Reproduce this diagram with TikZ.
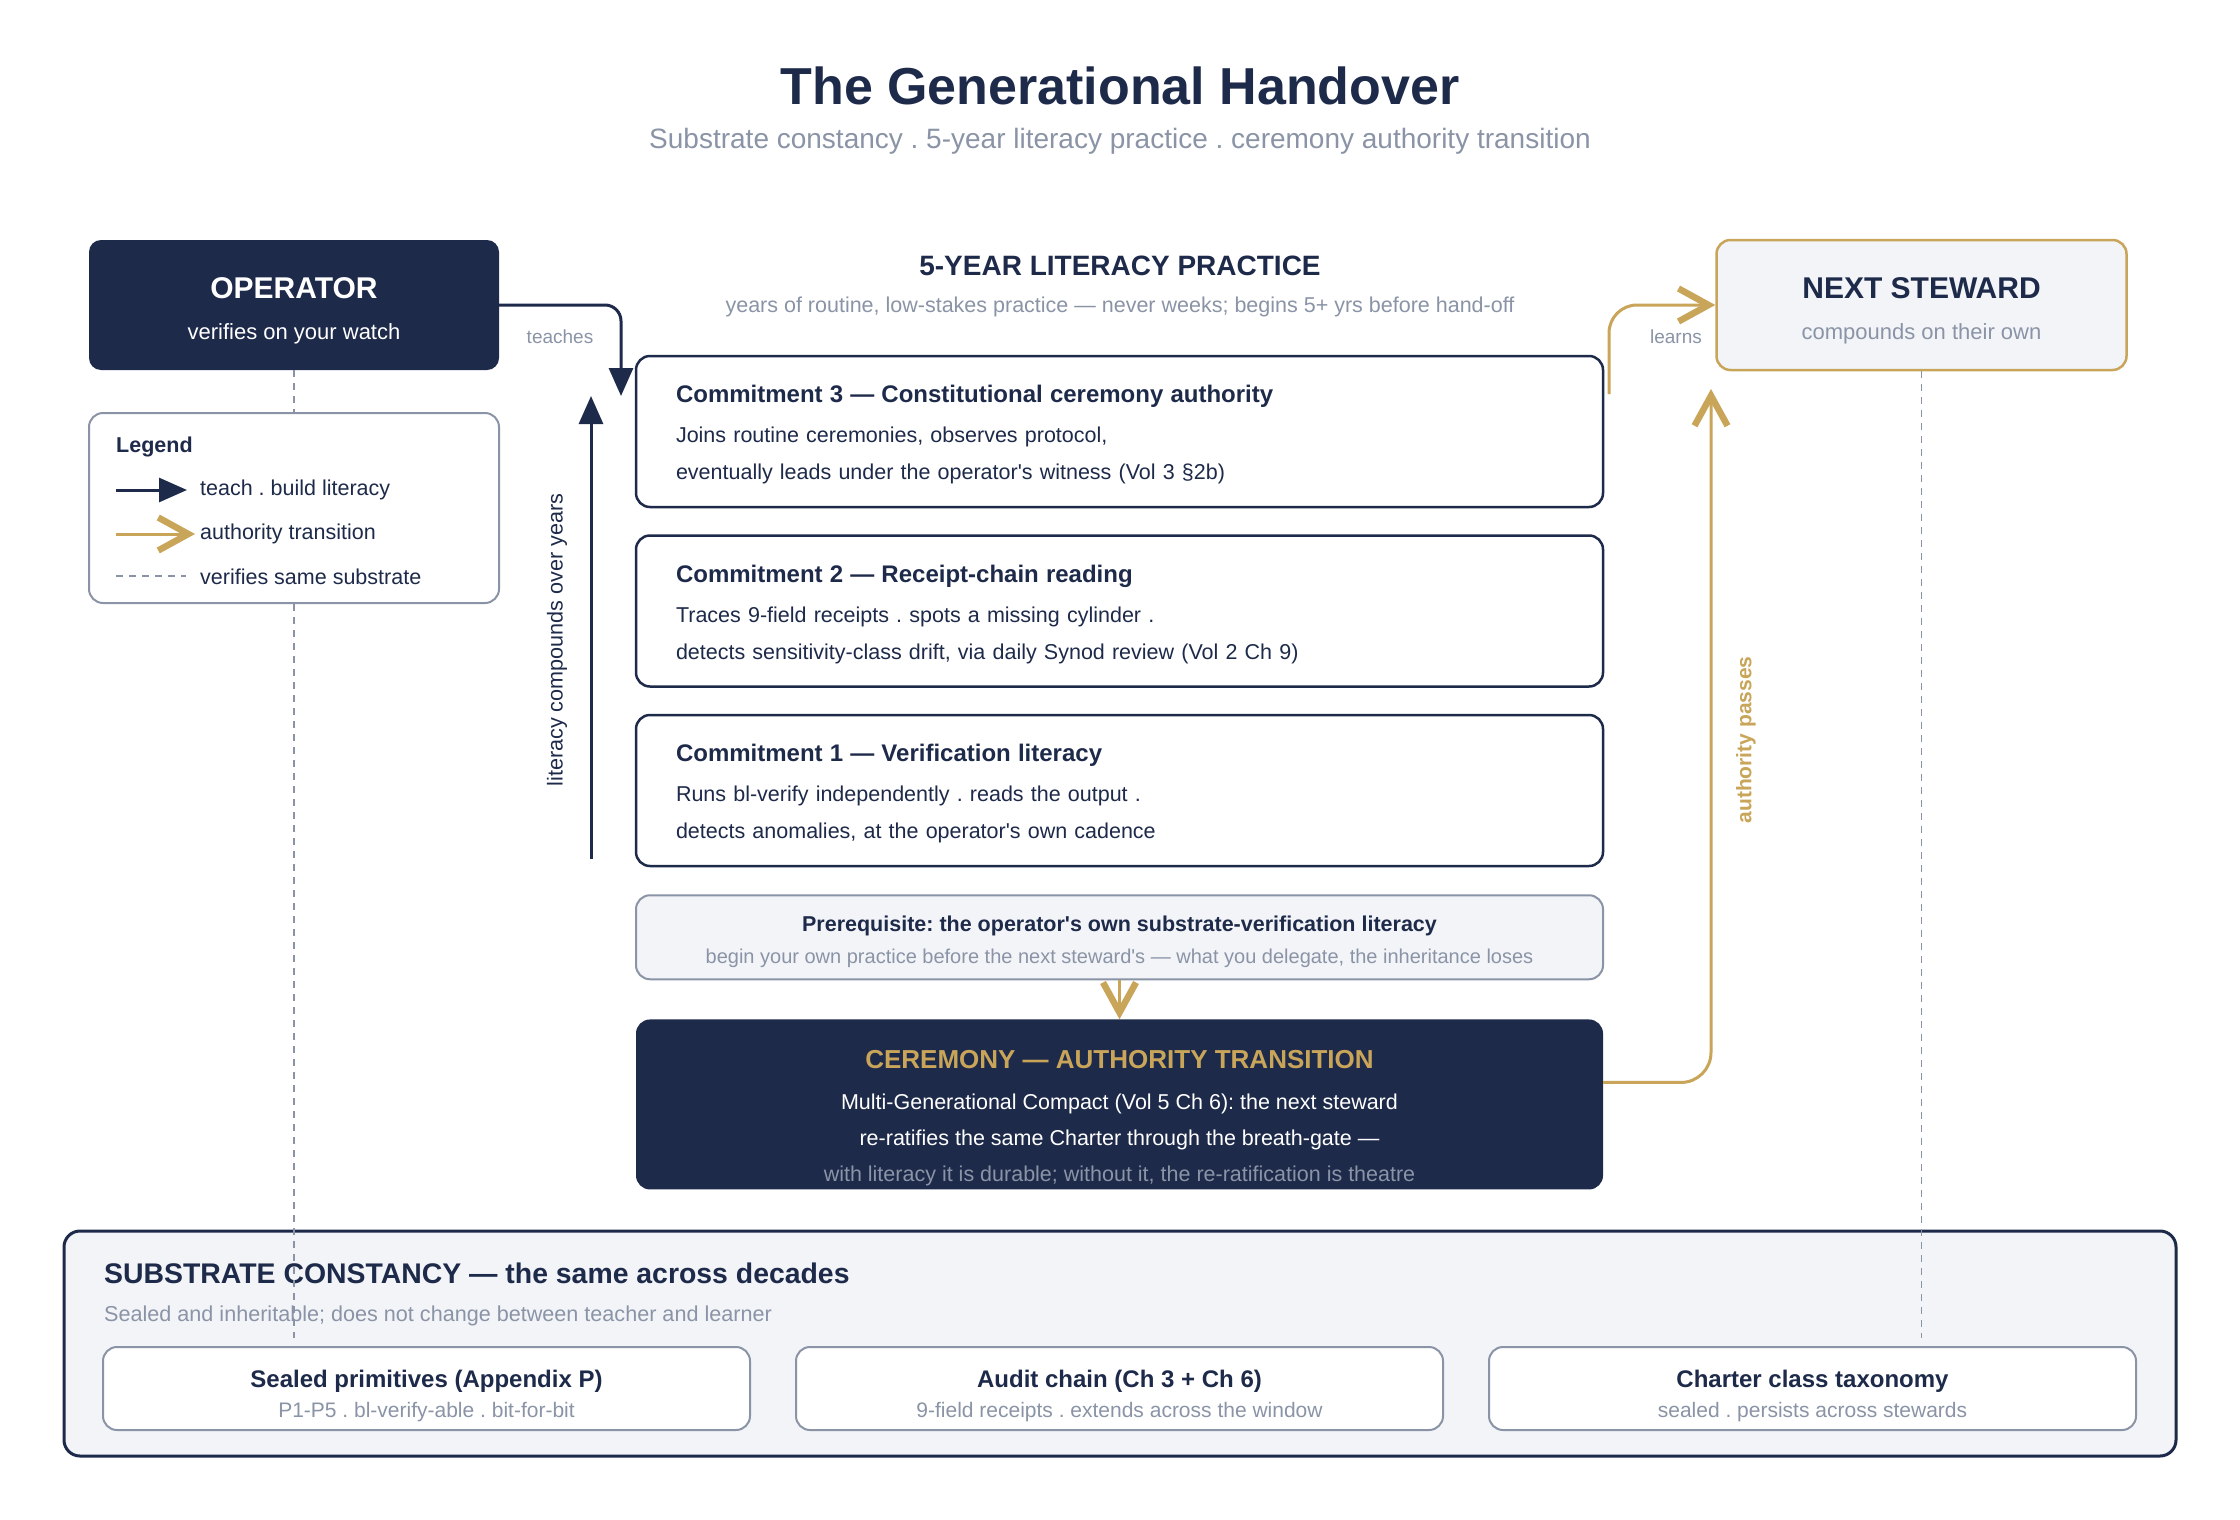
\documentclass[tikz,border=0pt]{standalone}
\usepackage{fontspec}
\setmainfont{Liberation Sans}[Ligatures=TeXOff]
\usepackage{xcolor}
\usepackage{tikz}
\usetikzlibrary{arrows.meta, positioning, calc}
\definecolor{navyink}{HTML}{1E2A4A}
\definecolor{goldline}{HTML}{C9A55A}
\definecolor{greytext}{HTML}{8A94A6}
\definecolor{paleback}{HTML}{F2F4F8}
\newcommand{\topgap}[1]{\rule{0pt}{#1}}
\frenchspacing

\begin{document}
\begin{tikzpicture}[
    x=1pt, y=1pt,
    darkbox/.style={rectangle, rounded corners=12pt, fill=navyink, minimum width=410pt, minimum height=130pt, align=center, text=white, font=\fontsize{22}{41}\selectfont},
    stewardbox/.style={rectangle, rounded corners=14pt, draw=goldline, line width=2.5pt, fill=paleback, minimum width=410pt, minimum height=130pt, align=center, text=navyink, font=\fontsize{22}{41}\selectfont},
    legendbox/.style={rectangle, rounded corners=14pt, draw=greytext, line width=2pt, fill=white, minimum width=410pt, minimum height=190pt},
    commitbox/.style={rectangle, rounded corners=14pt, draw=navyink, line width=2.5pt, fill=white, minimum width=967pt, minimum height=151pt, text width=887pt, align=left, text=navyink, font=\fontsize{21.5}{37}\selectfont},
    prereqbox/.style={rectangle, rounded corners=14pt, draw=greytext, line width=2pt, fill=paleback, minimum width=967pt, minimum height=84pt, align=center, text=navyink, font=\fontsize{20}{32}\selectfont},
    ceremonybox/.style={rectangle, rounded corners=14pt, fill=navyink, minimum width=967pt, minimum height=170pt, align=center, text=white, font=\fontsize{21.5}{36}\selectfont},
    groundbox/.style={rectangle, rounded corners=16pt, draw=navyink, line width=3pt, fill=paleback, minimum width=2112pt, minimum height=225pt},
    subbox/.style={rectangle, rounded corners=14pt, draw=greytext, line width=2pt, fill=white, minimum width=647pt, minimum height=83pt, align=center, text=navyink, font=\fontsize{21}{30}\selectfont},
    keytext/.style={anchor=west, inner sep=0pt, text=navyink, font=\fontsize{21.5}{26}\selectfont},
    note/.style={text=greytext, font=\fontsize{19}{22}\selectfont},
    teach/.style={-{Triangle[length=28pt, width=24pt]}, line width=3pt, navyink},
    handover/.style={-{Straight Barb[length=30pt, width=33pt, line width=6.5pt]}, line width=3pt, goldline},
    sameground/.style={dash pattern=on 7pt off 6pt, line width=1.8pt, greytext},
]
    \fill[white] (0,0) rectangle (2240,-1520);
    \useasboundingbox (0,0) rectangle (2240,-1520);

    % heading
    \node[font=\fontsize{52}{58}\selectfont\bfseries, text=navyink] (title) at (1120,-86) {The Generational Handover};
    \node[font=\fontsize{28}{32}\selectfont, text=greytext] (subtitle) at (1120,-141) {Substrate constancy . 5-year literacy practice . ceremony authority transition};

    % substrate band
    \node[groundbox] (substrate) at (1120,-1343.5) {};
    \node[anchor=west, inner sep=0pt, font=\fontsize{28.4}{32}\selectfont\bfseries, text=navyink] (groundhead) at (104,-1273) {SUBSTRATE CONSTANCY — the same across decades};
    \node[anchor=west, inner sep=0pt, font=\fontsize{21.6}{26}\selectfont, text=greytext] (groundnote) at (104,-1316) {Sealed and inheritable; does not change between teacher and learner};
    \node[subbox] (audit) at (1119.5,-1388.5) {\topgap{32pt}{\fontsize{24}{28}\selectfont\bfseries Audit chain (Ch 3 + Ch 6)}\\{\color{greytext}9-field receipts . extends across the window}};
    \node[subbox, left=44pt of audit] (sealed) {\topgap{32pt}{\fontsize{24}{28}\selectfont\bfseries Sealed primitives (Appendix P)}\\{\color{greytext}P1-P5 . bl-verify-able . bit-for-bit}};
    \node[subbox, right=44pt of audit] (charter) {\topgap{32pt}{\fontsize{24}{28}\selectfont\bfseries Charter class taxonomy}\\{\color{greytext}sealed . persists across stewards}};

    % the two generations
    \node[darkbox] (operator) at (294,-305) {\topgap{33.5pt}{\fontsize{30}{36}\selectfont\bfseries OPERATOR}\\verifies on your watch};
    \node[stewardbox] (steward) at (1921.5,-305) {\topgap{33.5pt}{\fontsize{30}{36}\selectfont\bfseries NEXT STEWARD}\\{\color{greytext}compounds on their own}};

    \coordinate (opfoot) at ([yshift=8pt]operator.south |- sealed.north);
    \coordinate (stewfoot) at ([yshift=8pt]steward.south |- charter.north);
    \draw[sameground] (operator.south) -- (opfoot);
    \draw[sameground] (steward.south) -- (stewfoot);

    % legend
    \node[legendbox] (legend) at (294,-508) {};
    \node[keytext, font=\fontsize{21.5}{26}\selectfont\bfseries] (legendhead) at (116,-447) {Legend};
    \coordinate (keyteachA) at (116,-490);
    \coordinate (keyteachB) at (187,-490);
    \draw[teach] (keyteachA) -- (keyteachB);
    \node[keytext] (keyteach) at (200,-490) {teach . build literacy};
    \coordinate (keygoldA) at (116,-534);
    \coordinate (keygoldB) at (195,-534);
    \draw[handover] (keygoldA) -- (keygoldB);
    \node[keytext] (keygold) at (200,-534) {authority transition};
    \coordinate (keydashA) at (116,-576);
    \coordinate (keydashB) at (186,-576);
    \draw[sameground] (keydashA) -- (keydashB);
    \node[keytext] (keydash) at (200,-577) {verifies same substrate};

    % five-year practice
    \node[font=\fontsize{28}{32}\selectfont\bfseries, text=navyink] (practice) at (1120,-266) {5-YEAR LITERACY PRACTICE};
    \node[font=\fontsize{21.5}{24}\selectfont, text=greytext] (practicenote) at (1120,-307) {years of routine, low-stakes practice — never weeks; begins 5+ yrs before hand-off};

    \node[commitbox] (c3) at (1119.5,-431.5) {
        \topgap{23.5pt}{\fontsize{24}{30}\selectfont\bfseries Commitment 3 — Constitutional ceremony authority}\\[3pt]
        Joins routine ceremonies, observes protocol,\\
        eventually leads under the operator's witness (Vol 3 §2b)
    };
    \node[commitbox, below=26pt of c3] (c2) {
        \topgap{23.5pt}{\fontsize{24}{30}\selectfont\bfseries Commitment 2 — Receipt-chain reading}\\[3pt]
        Traces 9-field receipts . spots a missing cylinder .\\
        detects sensitivity-class drift, via daily Synod review (Vol 2 Ch 9)
    };
    \node[commitbox, below=26pt of c2] (c1) {
        \topgap{23.5pt}{\fontsize{24}{30}\selectfont\bfseries Commitment 1 — Verification literacy}\\[3pt]
        Runs bl-verify independently . reads the output .\\
        detects anomalies, at the operator's own cadence
    };
    \node[prereqbox, below=27pt of c1] (prereq) {
        \topgap{24pt}{\fontsize{21.5}{28}\selectfont\bfseries Prerequisite: the operator's own substrate-verification literacy}\\
        {\color{greytext}begin your own practice before the next steward's — what you delegate, the inheritance loses}
    };
    \node[ceremonybox, below=39pt of prereq] (ceremony) {
        \topgap{45pt}{\fontsize{26}{32}\selectfont\bfseries\color{goldline}CEREMONY — AUTHORITY TRANSITION}\\[5pt]
        Multi-Generational Compact (Vol 5 Ch 6): the next steward\\
        re-ratifies the same Charter through the breath-gate —\\
        {\color{greytext}with literacy it is durable; without it, the re-ratification is theatre}
    };

    % connectors
    \coordinate (teachtip) at (621,-396);
    \draw[teach, rounded corners=16pt] (operator.east) -| (teachtip);
    \node[note] (teachlabel) at (560,-337) {teaches};

    \coordinate (growbase) at (591,-859);
    \coordinate (growtip) at (591,-396);
    \draw[teach] (growbase) -- (growtip);
    \node[rotate=90, font=\fontsize{21.6}{24}\selectfont, text=navyink] (growlabel) at (557,-640) {literacy compounds over years};

    \coordinate (learnstart) at (1609,-394);
    \draw[handover, rounded corners=28pt] (learnstart) |- (steward.west);
    \node[note] (learnlabel) at (1676,-337) {learns};

    \draw[handover] (prereq.south) -- (ceremony.north);

    \coordinate (authtip) at (1711,-389);
    \draw[handover, rounded corners=30pt] ([yshift=22pt]ceremony.east) -| (authtip);
    \node[rotate=90, font=\fontsize{21}{24}\selectfont\bfseries, text=goldline] (authlabel) at (1746,-740) {authority passes};
\end{tikzpicture}
\end{document}
